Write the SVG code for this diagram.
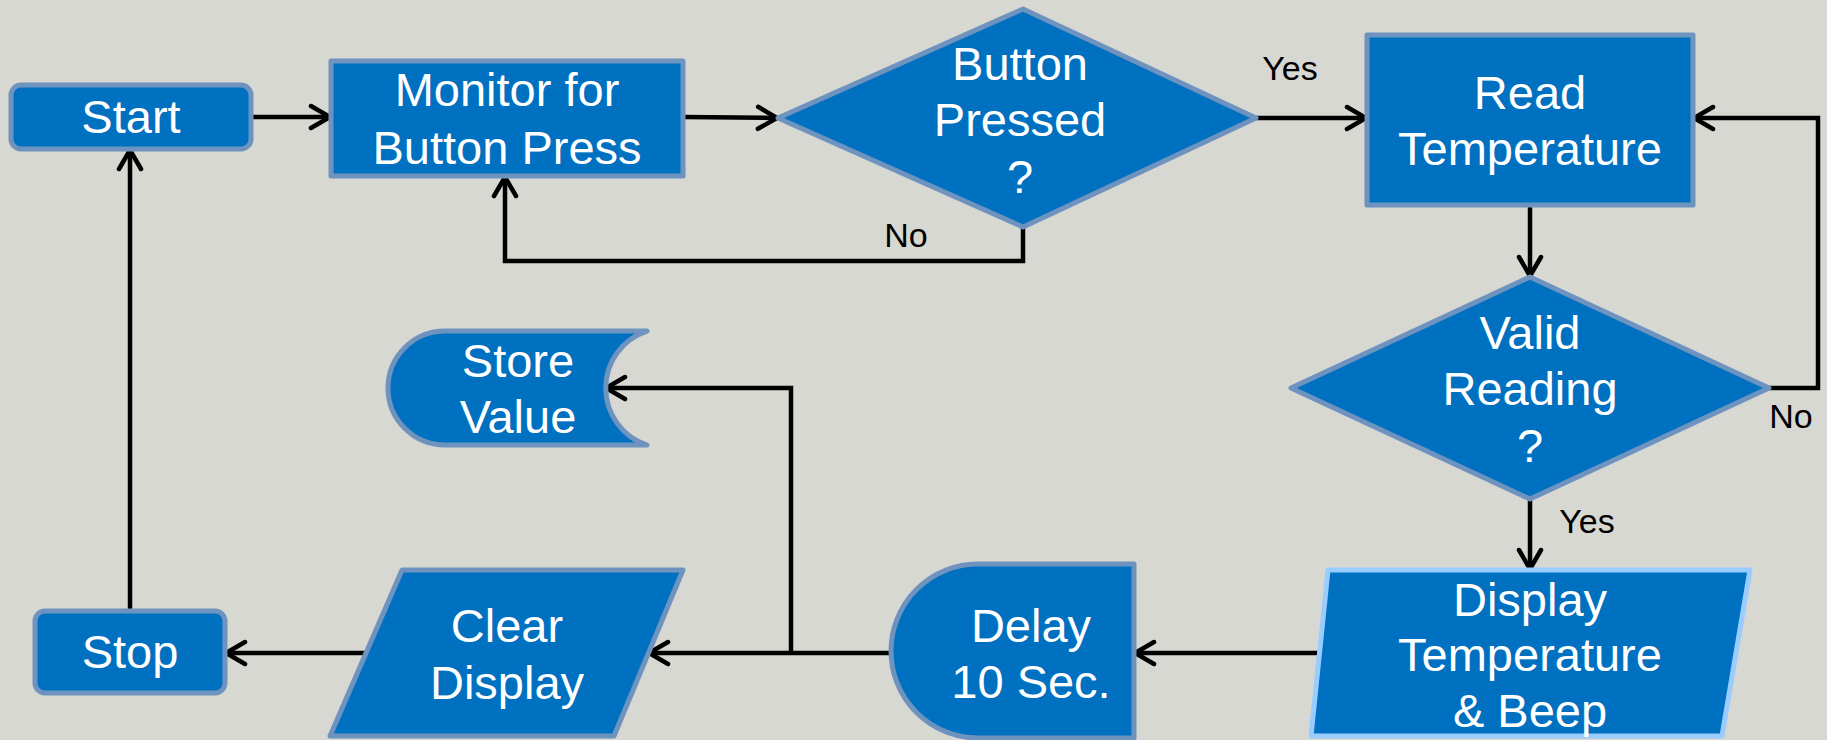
<svg xmlns="http://www.w3.org/2000/svg" width="1827" height="740" viewBox="0 0 1827 740">
  <style>
    .node { fill: #0070C0; stroke: #6F93BF; stroke-width: 5; stroke-linejoin: round; }
    .node-hi { fill: #0070C0; stroke: #99CCFF; stroke-width: 5; stroke-linejoin: round; }
    .t { font-family: "Liberation Sans", Arial, sans-serif; font-size: 47px; fill: #FFFFFF; text-anchor: middle; }
    .lbl { font-family: "Liberation Sans", Arial, sans-serif; font-size: 34px; fill: #000000; text-anchor: middle; }
    .wire { fill: none; stroke: #000000; stroke-width: 4.5; stroke-linejoin: miter; marker-end: url(#arrow); }
  </style>
  <defs>
    <marker id="arrow" markerUnits="userSpaceOnUse" markerWidth="26" markerHeight="28" viewBox="0 0 26 28" refX="22" refY="14" orient="auto">
      <path d="M3,3 L22,14 L3,25" fill="none" stroke="#000000" stroke-width="4.5" stroke-linecap="round" stroke-linejoin="miter"/>
    </marker>
  </defs>

  <rect width="1827" height="740" fill="#D8D8D3"/>

  <!-- connectors -->
  <g id="connectors">
    <path class="wire" d="M252,117 L330,117"/>
    <path class="wire" d="M683,117 L777,118"/>
    <path class="wire" d="M1023,227 L1023,261 L505,261 L505,177"/>
    <path class="wire" d="M1256,118 L1366,118"/>
    <path class="wire" d="M1530,205 L1530,276"/>
    <path class="wire" d="M1769,388 L1818,388 L1818,118 L1694,118"/>
    <path class="wire" d="M1530,499 L1530,569"/>
    <path class="wire" d="M1332,653 L1135,653"/>
    <path class="wire" d="M890,653 L649,653"/>
    <path class="wire" d="M791,653 L791,388 L606,388"/>
    <path class="wire" d="M366,653 L226,653"/>
    <path class="wire" d="M130,611 L130,150"/>
    <text class="lbl" x="1290" y="80">Yes</text>
    <text class="lbl" x="906" y="247">No</text>
    <text class="lbl" x="1791" y="428">No</text>
    <text class="lbl" x="1587" y="533">Yes</text>
  </g>

  <g id="start">
    <rect class="node" x="11" y="85" width="240" height="64" rx="10"/>
    <text class="t" x="131" y="133">Start</text>
  </g>

  <g id="monitor">
    <rect class="node" x="331" y="61" width="352" height="115"/>
    <text class="t" x="507" y="106">Monitor for</text>
    <text class="t" x="507" y="164">Button Press</text>
  </g>

  <g id="button-pressed">
    <polygon class="node" points="778,118 1023,9 1256,118 1023,227"/>
    <text class="t" x="1020" y="80">Button</text>
    <text class="t" x="1020" y="136">Pressed</text>
    <text class="t" x="1020" y="193">?</text>
  </g>

  <g id="read-temperature">
    <rect class="node" x="1367" y="35" width="326" height="170"/>
    <text class="t" x="1530" y="109">Read</text>
    <text class="t" x="1530" y="165">Temperature</text>
  </g>

  <g id="valid-reading">
    <polygon class="node" points="1291,388 1530,277 1769,388 1530,499"/>
    <text class="t" x="1530" y="349">Valid</text>
    <text class="t" x="1530" y="405">Reading</text>
    <text class="t" x="1530" y="462">?</text>
  </g>

  <g id="display-temperature">
    <polygon class="node-hi" points="1328,570 1750,570 1722,736 1311,736"/>
    <text class="t" x="1530" y="616">Display</text>
    <text class="t" x="1530" y="671">Temperature</text>
    <text class="t" x="1530" y="727">&amp; Beep</text>
  </g>

  <g id="delay">
    <path class="node" d="M1134,564 L978,564 A87,87 0 0 0 978,738 L1134,738 Z"/>
    <text class="t" x="1031" y="642">Delay</text>
    <text class="t" x="1031" y="698">10 Sec.</text>
  </g>

  <g id="clear-display">
    <polygon class="node" points="402,570 683,570 614,736 330,736"/>
    <text class="t" x="507" y="642">Clear</text>
    <text class="t" x="507" y="699">Display</text>
  </g>

  <g id="stop">
    <rect class="node" x="35" y="611" width="190" height="82" rx="10"/>
    <text class="t" x="130" y="668">Stop</text>
  </g>

  <g id="store-value">
    <path class="node" d="M647,331 L445,331 A57,57 0 0 0 445,445 L647,445 A60,60 0 0 1 647,331 Z"/>
    <text class="t" x="518" y="377">Store</text>
    <text class="t" x="518" y="433">Value</text>
  </g>
</svg>
